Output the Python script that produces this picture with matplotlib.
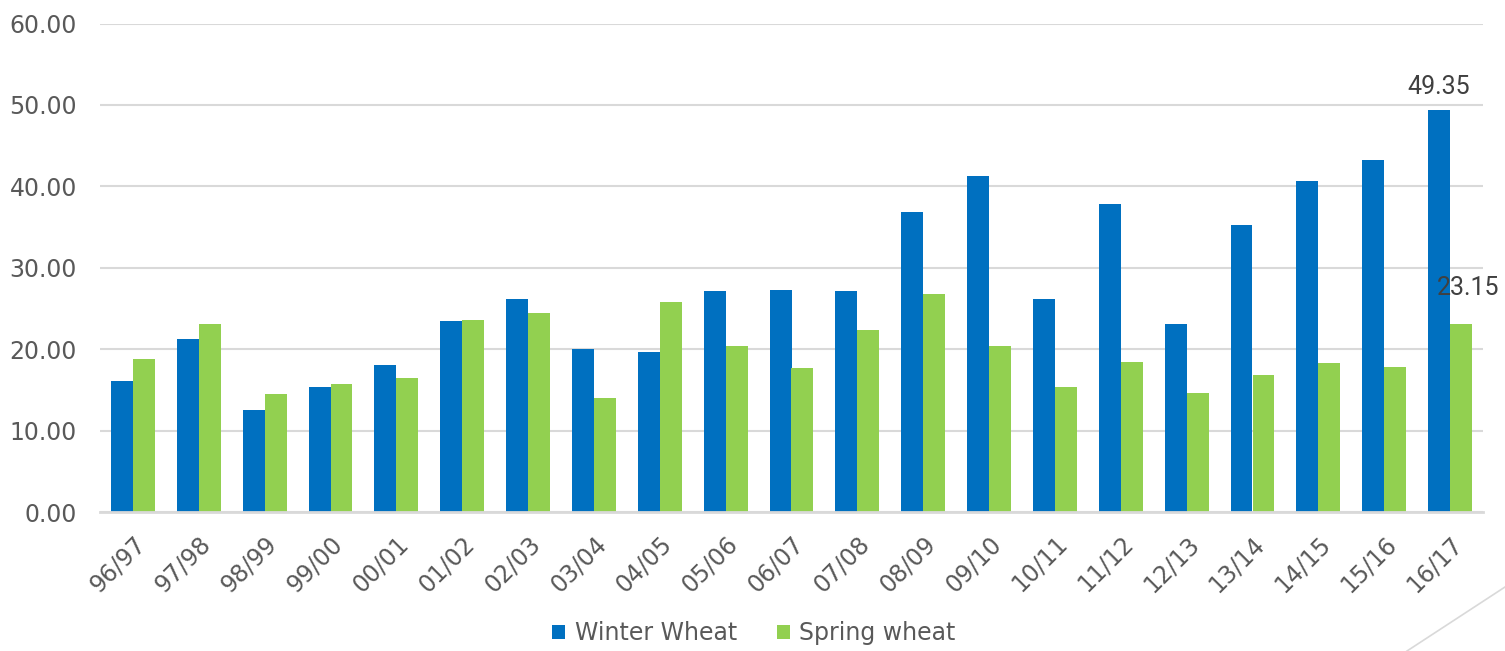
import numpy as np
import matplotlib.pyplot as plt
from matplotlib.lines import Line2D

plt.rcParams['font.family'] = ['DejaVu Sans']

'''
Data
'''
seasons = ['96/97', '97/98', '98/99', '99/00', '00/01', '01/02', '02/03', '03/04',
           '04/05', '05/06', '06/07', '07/08', '08/09', '09/10', '10/11', '11/12',
           '12/13', '13/14', '14/15', '15/16', '16/17']
winter = [16.05, 21.2, 12.55, 15.3, 18.0, 23.4, 26.2, 20.05, 19.6, 27.2, 27.3,
          27.1, 36.9, 41.3, 26.2, 37.8, 23.1, 35.2, 40.7, 43.2, 49.35]
spring = [18.85, 23.03, 14.5, 15.7, 16.5, 23.55, 24.4, 14.05, 25.85, 20.4, 17.7,
          22.3, 26.8, 20.4, 15.3, 18.4, 14.6, 16.8, 18.35, 17.8, 23.15]

blue = '#0070C0'
green = '#92D050'
grey_text = '#595959'

'''
Plot
'''
fig = plt.figure(figsize=(15.05, 6.51), dpi=100)
ax = fig.add_axes([100 / 1505, (651 - 512) / 651, 1383 / 1505, (512 - 23.5) / 651])

x = np.arange(len(seasons))
w = 1 / 3
ax.bar(x - w / 2, winter, w, color=blue, label='Winter Wheat', zorder=3)
ax.bar(x + w / 2, spring, w, color=green, label='Spring wheat', zorder=3)

ax.set_xlim(-0.5, len(seasons) - 0.5)
ax.set_ylim(0, 60)
ax.set_yticks(np.arange(0, 61, 10))
ax.set_yticklabels(['%.2f' % v for v in np.arange(0, 61, 10)])
ax.yaxis.grid(True, color='#D9D9D9', linewidth=1.5, zorder=0)
ax.set_axisbelow(True)

for s in ['top', 'right', 'left']:
    ax.spines[s].set_visible(False)
ax.spines['bottom'].set_color('#D9D9D9')
ax.spines['bottom'].set_linewidth(2)
ax.spines['bottom'].set_zorder(4)

ax.tick_params(axis='both', length=0, labelsize=17, colors=grey_text)
ax.tick_params(axis='y', pad=16.5)
ax.set_xticks(x)
ax.set_xticklabels(seasons, rotation=45, ha='right', rotation_mode='anchor')
ax.tick_params(axis='x', pad=14)

# data labels on the last season
ax.text(x[-1] - w / 2, winter[-1] + 1.4, '%.2f' % winter[-1], ha='center', va='bottom',
        fontsize=18, color='#404040', family='Roboto')
ax.text(x[-1] + w / 2 + 0.1, 27.5, '%.2f' % spring[-1], ha='center', va='center',
        fontsize=18, color='#404040', family='Roboto')

fig.legend(loc='center', bbox_to_anchor=(754 / 1505, 1 - 633 / 651), ncol=2,
           frameon=False, fontsize=17, labelcolor=grey_text, handlelength=0.55,
           handleheight=0.55, columnspacing=1.7, handletextpad=0.4)

# slide decoration line
fig.add_artist(Line2D([1407 / 1505, 1], [0, 1 - 587 / 651], transform=fig.transFigure,
                      color='#D9D9D9', linewidth=1.2))

fig.savefig('out.png', dpi=100)
